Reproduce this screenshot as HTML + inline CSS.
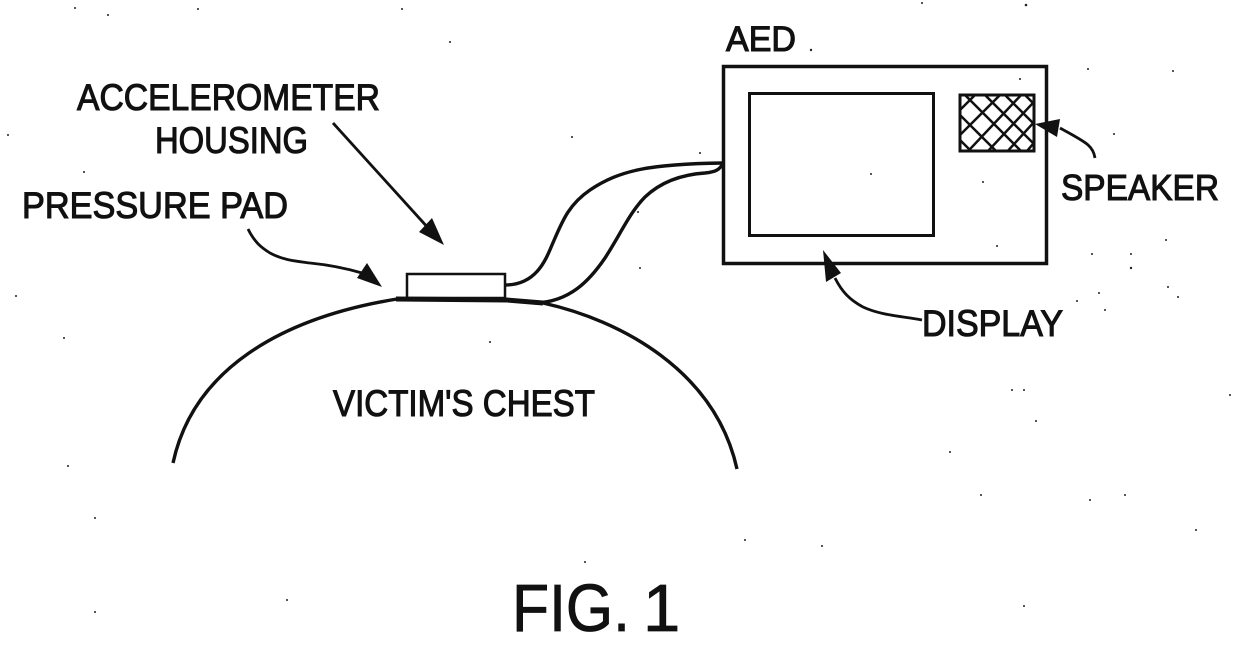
<!DOCTYPE html>
<html><head><meta charset="utf-8"><style>html,body{margin:0;padding:0;background:#fff}svg{display:block}text{font-family:"Liberation Sans",sans-serif;fill:#111;stroke:#111;stroke-width:1.1}</style></head>
<body>
<svg width="1240" height="646" viewBox="0 0 1240 646" xmlns="http://www.w3.org/2000/svg">
<defs><clipPath id="sp"><rect x="959" y="94" width="75" height="57"/></clipPath></defs>
<g fill="none" stroke="#111" stroke-width="3">
<rect x="723.5" y="66.5" width="323" height="197" stroke-width="3.5"/>
<rect x="749.5" y="93.5" width="184" height="142"/>
<g clip-path="url(#sp)" stroke-width="2.5">
<path d="M945 100l55 55M945 75l85 85M965 75l85 85M985 75l70 70M1005 75l50 50M1025 75l30 30M945 125l40 40
M945 125l50-50M945 150l75-75M955 165l85-90M975 165l70-75M995 165l50-55M1015 165l30-35M1035 165l10-15"/>
</g>
<rect x="960" y="95" width="74" height="56" stroke-width="3"/>
<rect x="407" y="274" width="98" height="24" stroke-width="2.5"/>
<path d="M173 463C193 370 280 318 397 299" stroke-width="3.4"/>
<path d="M543 303C620 320 715 370 737 469" stroke-width="3.4"/>
<path d="M396 299L507 300L543 303" stroke-width="5"/>
<path d="M505 285C535 285 545 262 552 245C562 222 568 205 590 190C620 170 650 164 723 163" stroke-width="3.4"/>
<path d="M535 303C570 302 590 280 605 258C620 235 630 212 645 197C665 178 690 174 705 173C715 172 720 170 723 163" stroke-width="3.4"/>
<path d="M333 123L430 230" stroke-width="2.8"/>
<path d="M248 229C255 243 262 248 270 253C283 260 295 261 310 263C330 265 345 268 362 273" stroke-width="2.8"/>
<path d="M1095 158C1093 145 1085 142 1060 128" stroke-width="2.8"/>
<path d="M922 320C900 316 880 315 863 307C850 300 842 292 835 278" stroke-width="2.8"/>
</g>
<g fill="#111">
<path d="M444 245L419 232L432 218Z"/>
<path d="M382 287L357 278L367 263Z"/>
<path d="M1035 124L1060 119L1057 137Z"/>
<path d="M823 250L841 273L826 282Z"/>
</g>
<text x="77" y="110" font-size="37" textLength="303" lengthAdjust="spacingAndGlyphs">ACCELEROMETER</text>
<text x="155" y="153" font-size="37" textLength="153" lengthAdjust="spacingAndGlyphs">HOUSING</text>
<text x="22" y="218" font-size="37" textLength="266" lengthAdjust="spacingAndGlyphs">PRESSURE PAD</text>
<text x="726" y="51" font-size="35" textLength="70" lengthAdjust="spacingAndGlyphs">AED</text>
<text x="1061" y="200" font-size="36" textLength="158" lengthAdjust="spacingAndGlyphs">SPEAKER</text>
<text x="922" y="336" font-size="37" textLength="141" lengthAdjust="spacingAndGlyphs">DISPLAY</text>
<text x="333" y="416" font-size="37" textLength="262" lengthAdjust="spacingAndGlyphs">VICTIM'S CHEST</text>
<text x="512" y="631" font-size="67" textLength="118" lengthAdjust="spacingAndGlyphs" style="stroke-width:.8">FIG.</text>
<text x="643" y="631" font-size="67" style="stroke-width:.8">1</text>
<g fill="#222">
<circle cx="75" cy="8" r="1"/><circle cx="198" cy="9" r="1"/><circle cx="402" cy="9" r="1"/><circle cx="450" cy="42" r="1"/><circle cx="108" cy="15" r="1"/><circle cx="811" cy="50" r="1.2"/><circle cx="1026" cy="5" r="1.3"/><circle cx="922" cy="3" r="1"/><circle cx="1088" cy="69" r="1"/><circle cx="1173" cy="71" r="1"/><circle cx="1020" cy="79" r="1"/><circle cx="1114" cy="134" r="1"/><circle cx="871" cy="174" r="1"/><circle cx="983" cy="182" r="1"/><circle cx="997" cy="246" r="1"/><circle cx="1092" cy="254" r="1"/><circle cx="1131" cy="254" r="1"/><circle cx="1166" cy="240" r="1"/><circle cx="1131" cy="268" r="1.2"/><circle cx="1168" cy="287" r="1"/><circle cx="1099" cy="293" r="1"/><circle cx="1077" cy="301" r="1"/><circle cx="1105" cy="310" r="1"/><circle cx="1178" cy="297" r="1"/><circle cx="1012" cy="390" r="1"/><circle cx="1024" cy="390" r="1"/><circle cx="1036" cy="421" r="1"/><circle cx="950" cy="452" r="1"/><circle cx="981" cy="495" r="1"/><circle cx="1090" cy="500" r="1"/><circle cx="1196" cy="530" r="1"/><circle cx="822" cy="546" r="1"/><circle cx="745" cy="540" r="1"/><circle cx="585" cy="562" r="1"/><circle cx="95" cy="518" r="1"/><circle cx="68" cy="466" r="1"/><circle cx="64" cy="338" r="1"/><circle cx="16" cy="296" r="1"/><circle cx="8" cy="135" r="1"/><circle cx="84" cy="172" r="1"/><circle cx="572" cy="137" r="1"/><circle cx="640" cy="268" r="1"/><circle cx="638" cy="212" r="1"/><circle cx="700" cy="153" r="1"/><circle cx="490" cy="342" r="1"/><circle cx="1024" cy="606" r="1"/><circle cx="287" cy="600" r="1"/><circle cx="95" cy="612" r="1"/><circle cx="1125" cy="495" r="1"/><circle cx="1230" cy="395" r="1"/>
</g>
</svg>
</body></html>
